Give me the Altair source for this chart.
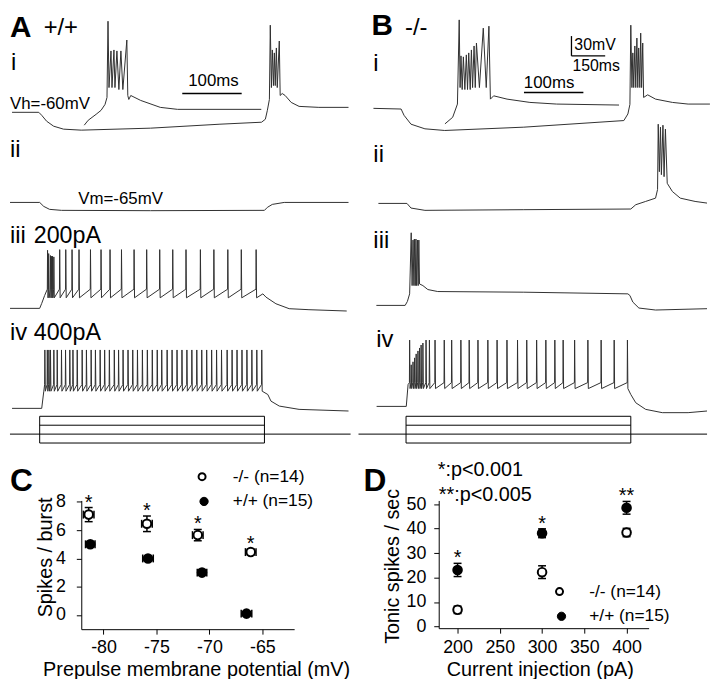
import altair as alt
import pandas as pd

FONT = "Liberation Sans"
TRACE = "#303030"

# ---------------- Panel A (+/+) traces: time in ms (step onset = 0), potential in mV ----------------
A1_T = [-123, -4, 9, 31, 62, 106, 185, 493, 802, 987, 1004, 1013, 1022, 1026, 1031, 1035, 1040, 1044,
        1048, 1053, 1057, 1066, 1070, 1079, 1092, 1119, 1154, 1242, 1374]
A1_V = [-60, -60, -64.5, -73.5, -81, -85.5, -87, -84, -78, -75, -70.5, -57, -40.5, 72, -22.5, 34.5, -19.5, 30,
        -19.5, 37.5, -22.5, 48, -34.5, -31.5, -34.5, -45, -51, -52.5, -52.5]
A1_INSET_T = [0, 6.7, 20, 28.3, 35, 38.3, 40, 41.7, 45, 46.7, 50, 51.7, 55, 58.3, 61.7, 65, 71.7, 73.3, 75,
              78.3, 95, 128, 157, 298]
A1_INSET_V = [-79.5, -72, -63, -57, -48, -37.5, 78, -22.5, 33, -22.5, 34.5, -22.5, 33, -25.5, 33, -25.5, 49.5,
              -34.5, -40.5, -34.5, -42, -52.5, -55.5, -55.5]
A2_T = [-132, 0, 18, 44, 97, 493, 1000, 1013, 1035, 1088, 1374]
A2_V = [-65, -65, -71, -75.5, -77, -77.5, -77, -72.5, -68, -65, -65]
A3_PRE_T = [-132, 0, 9, 22]
A3_PRE_V = [-65, -65, -57.5, -45.5]
A3_SPIKES = [35, 40, 48, 53, 57, 63, 89, 116, 144, 175, 226, 273, 313, 364, 420, 476, 534, 592, 651, 715,
             775, 837, 897, 963]
A3_PEAKS = [23, 18, 15, 14, 14, 13, 24, 24, 24, 24, 24, 24, 24, 24, 24, 24, 24, 24, 24, 24, 24, 24, 24, 24]
A3_THR, A3_AHP = -36, -49
A3_POST_T = [993, 1007, 1051, 1110, 1198, 1366]
A3_POST_V = [-43, -48, -58, -65.5, -67, -69]
A4_PRE_T = [-123, 9, 18]
A4_PRE_V = [-65, -65, -40]
A4_SPIKES = [23, 34, 41, 48, 63, 78, 97, 115, 134, 148, 167, 189, 208, 229, 248, 269, 289, 310, 332, 351,
             371, 393, 414, 435, 457, 479, 501, 523, 543, 567, 589, 611, 633, 655, 677, 699, 721, 743, 765,
             787, 809, 834, 856, 878, 900, 922, 944, 966, 988]
A4_PEAK, A4_THR, A4_AHP = 23.5, -29, -39
A4_POST_T = [1015, 1029, 1066, 1154, 1374]
A4_POST_V = [-44, -54, -61.5, -66.5, -69]

# ---------------- Panel B (-/-) traces ----------------
B1_T = [-145, -22, -9, 22, 84, 172, 524, 969, 987, 996, 1000, 1005, 1009, 1013, 1018, 1022, 1027, 1031,
        1035, 1040, 1044, 1048, 1053, 1057, 1075, 1110, 1185, 1255, 1352]
B1_V = [-60, -61, -70.5, -84, -91, -93.5, -88.5, -78.5, -68.5, -54, 66, -28.5, 24, -28.5, 34.5, -28.5, 46.5,
        -28.5, 31.5, -28.5, 54, -28.5, 39, -43.5, -39.5, -46, -51, -53.5, -53.5]
B1_INSET_T = [0, 13, 21, 24, 25.5, 27, 29, 31, 33.5, 36, 38, 40, 42.5, 44.5, 46.5, 49, 51, 53, 58, 64.5,
              69.5, 74, 76.5, 82, 104.5, 143, 188, 293]
B1_INSET_V = [-83.5, -73.5, -53.5, 74, -28.5, 19.5, -31.5, 18, -31.5, 21, -31.5, 24, -31.5, 28.5, -28.5,
              34.5, -28.5, 39, -28.5, 61.5, -28.5, 64.5, -46, -41, -46, -51, -53.5, -55]
B2_T = [-123, 4, 22, 84, 524, 1000, 1022, 1066, 1110, 1119, 1122, 1127, 1132, 1136, 1143, 1148, 1154,
        1162, 1185, 1220, 1286, 1339]
B2_V = [-65, -65, -72, -75.5, -74.5, -73.5, -67, -62, -57, -44, 55, -17, 50.5, -21.5, 53.5, -24.5, 47.5,
        -34.5, -47, -57, -62, -64.5]
B3_T = [-132, -4, 6, 16, 23, 27, 31, 35, 37, 41, 44, 47, 51, 54, 57, 60, 75, 97, 141, 524, 987, 996, 1009,
        1036, 1110, 1339]
B3_V = [-65, -65, -59, -47.5, 45, -35, 34, -35, 35.5, -35, 35.5, -35, 34, -35, 34, -32.5, -35, -41, -44,
        -45, -47.5, -50, -60, -69, -72, -70]
B4_PRE_T = [-131, 1, 9]
B4_PRE_V = [-65, -65, -32]
B4_SPIKES = [16, 23, 31, 38, 45, 53, 60, 67, 75, 89, 104, 129, 170, 203, 244, 281, 320, 364, 405, 449, 496,
             537, 581, 622, 662, 699, 750, 809, 868, 926, 985]
B4_PEAKS = [35.5, -2, 2.5, 8.5, 14.5, 19, 23.5, 28, 31, 35.5, 35.5, 35.5, 35.5, 35.5, 35.5, 35.5, 35.5,
            35.5, 35.5, 35.5, 35.5, 35.5, 35.5, 35.5, 35.5, 35.5, 35.5, 35.5, 35.5, 35.5, 35.5]
B4_THR, B4_AHP = -29, -38
B4_POST_T = [1000, 1022, 1066, 1140, 1255, 1339]
B4_POST_V = [-47, -59.5, -69.5, -74.5, -74.5, -72]

# current-step schematic (pA) and step timing (ms)
STIM_ON, STIM_OFF = 0, 1000
STIM_TOP, STIM_MID, STIM_ZERO, STIM_BOTTOM = 400, 200, 0, -200

# ---------------- Panel C ----------------
C_KO_X = [-81.4, -75.9, -71.1, -66.1]
C_KO_Y = [7.1, 6.45, 5.65, 4.45]
C_KO_YERR = [0.5, 0.55, 0.4, 0.2]
C_KO_XERR = [0.5, 0.5, 0.5, 0.5]
C_WT_X = [-81.25, -75.8, -70.7, -66.5]
C_WT_Y = [5.0, 4.0, 3.0, 0.1]
C_WT_YERR = [0.12, 0.12, 0.15, 0.1]
C_WT_XERR = [0.45, 0.5, 0.45, 0.5]

# ---------------- Panel D ----------------
D_X = [200, 300, 400]
D_KO_Y = [6.8, 22.2, 38.4]
D_KO_ERR = [1.5, 2.6, 1.7]
D_WT_Y = [23.1, 38.1, 48.5]
D_WT_ERR = [2.7, 1.8, 2.6]
D_STARS = ["*", "*", "**"]

# ---------------- layout helpers ----------------
TRACE_H = 445
MS_PER_PX = 1000 / 227
INSET_MS_PER_PX = 100 / 60
MV_PER_PX = 1.5
PA_PER_PX = 400 / 18
ONE = pd.DataFrame({"a": [0]})


def xdom(onset_px, left, right, per):
    return [(left - onset_px) * per, (right - onset_px) * per]


def ydom(v_at, py_at, per):
    top = v_at + (py_at - 8) * per
    return [top - TRACE_H * per, top]


def sc(d, rng=None):
    if rng is None:
        return alt.Scale(domain=d, nice=False, zero=False)
    return alt.Scale(domain=d, range=rng, nice=False, zero=False)


def line_layer(t, v, xd, yd):
    df = pd.DataFrame({"t": t, "v": v, "k": list(range(len(t)))})
    return alt.Chart(df).mark_line(color=TRACE, strokeWidth=1).encode(
        x=alt.X("t:Q", scale=sc(xd), axis=None),
        y=alt.Y("v:Q", scale=sc(yd), axis=None),
        order="k:Q",
    )


def spike_train(pre_t, pre_v, spikes, peaks, thr, ahp, post_t, post_v):
    t, v = list(pre_t), list(pre_v)
    for s, p in zip(spikes, peaks):
        t += [s - 1, s, s + 2]
        v += [thr, p, ahp]
    return t + list(post_t), v + list(post_v)


def rule_layer(rows, xd, yd, width=1.3):
    df = pd.DataFrame(rows, columns=["t", "t2", "v", "v2"])
    return alt.Chart(df).mark_rule(color="black", strokeWidth=width).encode(
        x=alt.X("t:Q", scale=sc(xd), axis=None), x2="t2:Q",
        y=alt.Y("v:Q", scale=sc(yd), axis=None), y2="v2:Q",
    )


def stim_layers(xd, yd):
    box = pd.DataFrame({"t": [STIM_ON], "t2": [STIM_OFF], "v": [STIM_BOTTOM], "v2": [STIM_TOP]})
    rect = alt.Chart(box).mark_rect(fillOpacity=0, stroke="black", strokeWidth=1).encode(
        x=alt.X("t:Q", scale=sc(xd), axis=None), x2="t2:Q",
        y=alt.Y("v:Q", scale=sc(yd), axis=None), y2="v2:Q",
    )
    lines = rule_layer([
        [xd[0], STIM_ON, STIM_ZERO, STIM_ZERO],
        [STIM_OFF, xd[1], STIM_ZERO, STIM_ZERO],
        [STIM_ON, STIM_OFF, STIM_MID, STIM_MID],
        [STIM_ON, STIM_OFF, STIM_ZERO, STIM_ZERO],
    ], xd, yd, width=1)
    return [rect, lines]


def label(text, x, y, size, weight="normal", align="left", baseline="alphabetic"):
    return alt.Chart(ONE).mark_text(
        text=text, font=FONT, fontSize=size, fontWeight=weight, align=align,
        baseline=baseline, color="black",
    ).encode(x=alt.value(x), y=alt.value(y))


# ---------------- column A ----------------
axd = xdom(38, 8, 352, MS_PER_PX)
a_in = xdom(83, 8, 352, INSET_MS_PER_PX)
a3_t, a3_v = spike_train(A3_PRE_T, A3_PRE_V, A3_SPIKES, A3_PEAKS, A3_THR, A3_AHP, A3_POST_T, A3_POST_V)
a4_t, a4_v = spike_train(A4_PRE_T, A4_PRE_V, A4_SPIKES, [A4_PEAK] * len(A4_SPIKES), A4_THR, A4_AHP,
                         A4_POST_T, A4_POST_V)
colA = alt.layer(
    line_layer(A1_T, A1_V, axd, ydom(-60, 105, MV_PER_PX)),
    line_layer(A1_INSET_T, A1_INSET_V, a_in, ydom(-60, 105, MV_PER_PX)),
    rule_layer([[165, 265, -31.5, -31.5]], a_in, ydom(-60, 105, MV_PER_PX)),
    line_layer(A2_T, A2_V, axd, ydom(-65, 196, MV_PER_PX)),
    line_layer(a3_t, a3_v, axd, ydom(-65, 303, MV_PER_PX)),
    line_layer(a4_t, a4_v, axd, ydom(-65, 404, MV_PER_PX)),
    *stim_layers(axd, ydom(0, 430, PA_PER_PX)),
    label("A", 0, 21, 30, "bold"),
    label("+/+", 34, 19, 24),
    label("i", 1, 54, 24),
    label("ii", 0, 142, 24),
    label("iii", 0, 229, 24),
    label("200pA", 24, 229, 23.5),
    label("iv", 0, 327, 24),
    label("400pA", 24, 327, 23.5),
    label("Vh=-60mV", 0, 94, 17),
    label("Vm=-65mV", 69, 190, 17),
    label("100ms", 180, 70, 17),
).resolve_scale(x="independent", y="independent").properties(width=344, height=TRACE_H)

# ---------------- column B ----------------
bxd = xdom(408, 360, 712, MS_PER_PX)
b_in = xdom(447.3, 360, 712, INSET_MS_PER_PX)
b4_t, b4_v = spike_train(B4_PRE_T, B4_PRE_V, B4_SPIKES, B4_PEAKS, B4_THR, B4_AHP, B4_POST_T, B4_POST_V)
colB = alt.layer(
    line_layer(B1_T, B1_V, bxd, ydom(-60, 101, MV_PER_PX)),
    line_layer(B1_INSET_T, B1_INSET_V, b_in, ydom(-60, 101, MV_PER_PX)),
    rule_layer([[133, 233, -36, -36]], b_in, ydom(-60, 101, MV_PER_PX)),
    rule_layer([[736, 736, 19.5, 49.5], [736, 886, 19.5, 19.5]], bxd, ydom(-60, 101, MV_PER_PX)),
    line_layer(B2_T, B2_V, bxd, ydom(-65, 197, MV_PER_PX)),
    line_layer(B3_T, B3_V, bxd, ydom(-65, 300, MV_PER_PX)),
    line_layer(b4_t, b4_v, bxd, ydom(-65, 402, MV_PER_PX)),
    *stim_layers(bxd, ydom(0, 430, PA_PER_PX)),
    label("B", 13, 19, 30, "bold"),
    label("-/-", 47, 19, 24),
    label("i", 15, 55, 24),
    label("ii", 15, 147, 24),
    label("iii", 15, 234, 24),
    label("iv", 18, 334, 24),
    label("30mV", 218, 34, 16),
    label("150ms", 216, 55, 16),
    label("100ms", 167, 72, 17),
).resolve_scale(x="independent", y="independent").properties(width=352, height=TRACE_H)


# ---------------- panels C and D ----------------
def axis(values, title, lab_pad, title_x, title_y, angle=None, lab_size=18, offset=None):
    kw = dict(
        values=values, title=title, grid=False, domainColor="black", domainWidth=1,
        tickColor="black", tickWidth=1, tickSize=5, labelFont=FONT, labelFontSize=lab_size,
        labelColor="black", labelPadding=lab_pad, labelExpr="datum.value",
        titleFont=FONT, titleFontSize=20, titleFontWeight="normal", titleColor="black",
        titleX=title_x, titleY=title_y, titleAlign="center", titleBaseline="alphabetic",
    )
    if angle is not None:
        kw["titleAngle"] = angle
    if offset is not None:
        kw["offset"] = offset
    return alt.Axis(**kw)


def points_panel(df, stars, xs, ys, xa, ya, cap=8, with_xerr=False):
    X = lambda f: alt.X(f, scale=xs, axis=xa)
    Y = lambda f: alt.Y(f, scale=ys, axis=ya)
    base = alt.Chart(df)
    layers = [
        base.mark_rule(color="black", strokeWidth=1.5).encode(x=X("x:Q"), y=Y("ylo:Q"), y2="yhi:Q"),
        base.mark_tick(orient="horizontal", size=cap, thickness=1.5, color="black", opacity=1).encode(
            x=X("x:Q"), y=Y("yhi:Q")),
        base.mark_tick(orient="horizontal", size=cap, thickness=1.5, color="black", opacity=1).encode(
            x=X("x:Q"), y=Y("ylo:Q")),
    ]
    if with_xerr:
        layers += [
            base.mark_rule(color="black", strokeWidth=1.5).encode(x=X("xlo:Q"), x2="xhi:Q", y=Y("y:Q")),
            base.mark_tick(orient="vertical", size=cap, thickness=1.5, color="black", opacity=1).encode(
                x=X("xlo:Q"), y=Y("y:Q")),
            base.mark_tick(orient="vertical", size=cap, thickness=1.5, color="black", opacity=1).encode(
                x=X("xhi:Q"), y=Y("y:Q")),
        ]
    layers.append(
        base.mark_point(shape="circle", filled=True, size=75, stroke="black", strokeWidth=2, opacity=1).encode(
            x=X("x:Q"), y=Y("y:Q"),
            fill=alt.Fill("g:N", scale=alt.Scale(domain=["-/-", "+/+"], range=["white", "black"]), legend=None),
        )
    )
    layers.append(
        alt.Chart(stars).mark_text(font=FONT, fontSize=20, baseline="middle", dy=-5, color="black").encode(
            x=X("x:Q"), y=Y("y:Q"), text="s:N")
    )
    return layers


def legend_marks(x0, y_ko, y_wt, tx, size=17.5):
    return [
        alt.Chart(ONE).mark_point(shape="circle", filled=True, size=50, fill="white", stroke="black",
                                  strokeWidth=2, opacity=1).encode(x=alt.value(x0), y=alt.value(y_ko)),
        alt.Chart(ONE).mark_point(shape="circle", filled=True, size=70, fill="black", stroke="black",
                                  strokeWidth=1, opacity=1).encode(x=alt.value(x0 + 2), y=alt.value(y_wt)),
        label("-/- (n=14)", tx, y_ko, size, baseline="middle"),
        label("+/+ (n=15)", tx, y_wt, size, baseline="middle"),
    ]


c_df = pd.DataFrame({
    "x": C_KO_X + C_WT_X, "y": C_KO_Y + C_WT_Y,
    "xe": C_KO_XERR + C_WT_XERR, "ye": C_KO_YERR + C_WT_YERR,
    "g": ["-/-"] * 4 + ["+/+"] * 4,
})
c_df["ylo"] = c_df["y"] - c_df["ye"]
c_df["yhi"] = c_df["y"] + c_df["ye"]
c_df["xlo"] = c_df["x"] - c_df["xe"]
c_df["xhi"] = c_df["x"] + c_df["xe"]
c_stars = pd.DataFrame({"x": C_KO_X, "y": [a + b for a, b in zip(C_KO_Y, C_KO_YERR)], "s": ["*"] * 4})

C_LEFT = 72   # plot area starts 72 px into the panel cell
c_xa = axis([-80, -75, -70, -65], "Prepulse membrane potential (mV)", 5, 188, 47)
c_ya = axis([0, 2, 4, 6, 8], "Spikes / burst", 11, -30, 57, angle=-90, offset=-C_LEFT)
chartC = alt.layer(
    *points_panel(c_df, c_stars, sc([-82.1, -62], [C_LEFT, C_LEFT + 215]), sc([-1, 8.1]), c_xa, c_ya,
                  cap=8, with_xerr=True),
    *legend_marks(C_LEFT + 122, -24, 1, C_LEFT + 153),
    label("C", 0, -10, 32, "bold"),
).properties(width=344, height=130)

d_df = pd.DataFrame({
    "x": D_X + D_X, "y": D_KO_Y + D_WT_Y, "ye": D_KO_ERR + D_WT_ERR,
    "g": ["-/-"] * 3 + ["+/+"] * 3,
})
d_df["ylo"] = d_df["y"] - d_df["ye"]
d_df["yhi"] = d_df["y"] + d_df["ye"]
d_stars = pd.DataFrame({"x": D_X, "y": [a + b for a, b in zip(D_WT_Y, D_WT_ERR)], "s": D_STARS})

D_LEFT = 81
d_xa = axis([200, 250, 300, 350, 400], "Current injection (pA)", 6, 183, 48)
d_ya = axis([0, 10, 20, 30, 40, 50], "Tonic spikes / sec", 8, -41, 66, angle=-90, offset=-D_LEFT)
chartD = alt.layer(
    *points_panel(d_df, d_stars, sc([177.7, 426.1], [D_LEFT, D_LEFT + 212]), sc([-0.7, 51.5]), d_xa, d_ya,
                  cap=8),
    *legend_marks(D_LEFT + 122, 92, 117, D_LEFT + 152),
    label("*:p<0.001", D_LEFT - 1, -31, 20, baseline="middle"),
    label("**:p<0.005", D_LEFT, -5, 20, baseline="middle"),
    label("D", 5, -10, 32, "bold"),
).properties(width=352, height=129)

chart = alt.concat(
    colA, colB, chartC, chartD, columns=2, spacing={"row": 44, "column": 8}, bounds="flush", align="each",
).properties(padding=0).configure_view(strokeWidth=0)

chart.save("out.html", embed_options={"renderer": "svg", "actions": False})
